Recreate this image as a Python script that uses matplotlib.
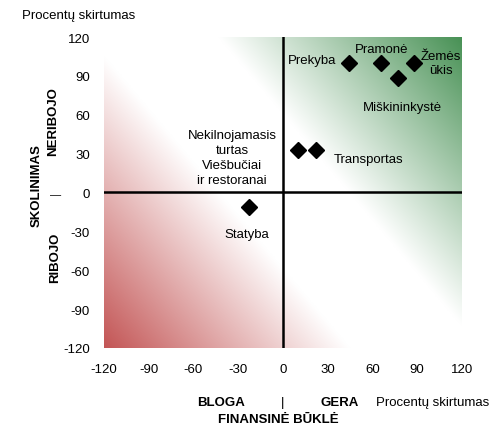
import numpy as np
import matplotlib
matplotlib.use('Agg')
import matplotlib.pyplot as plt

plt.rcParams['font.family'] = ['Liberation Sans', 'DejaVu Sans']
plt.rcParams['axes.unicode_minus'] = False

# sektorių taškai (finansinė būklė, skolinimas), procentų skirtumas
sectors = ['Prekyba', 'Pramonė', 'Žemės ūkis', 'Miškininkystė',
           'Nekilnojamasis turtas', 'Viešbučiai ir restoranai', 'Statyba']
fin_state = [44, 66, 88, 77, 10, 22, -23]
lending = [100, 100, 100, 88, 33, 33, -11]

ticks = [-120, -90, -60, -30, 0, 30, 60, 90, 120]

# etikečių tekstai ir jų vietos (duomenų koordinatėmis)
labels = ['Prekyba', 'Pramonė', 'Žemės\nūkis', 'Miškininkystė',
          'Nekilnojamasis\nturtas\nViešbučiai\nir restoranai', 'Transportas', 'Statyba']
label_x = [36, 66, 106, 80, -34, 34, -24]
label_y = [102, 111, 100, 66, 27, 26, -32]
label_ha = ['right', 'center', 'center', 'center', 'center', 'left', 'center']

fig = plt.figure(figsize=(4.99, 4.27), dpi=100)
ax = fig.add_axes([0.2084, 0.1827, 0.7174, 0.7283])

# fono gradientas: raudona kairėje apačioje, žalia dešinėje viršuje
n = 400
u, v = np.meshgrid(np.linspace(0, 1, n), np.linspace(0, 1, n))
s = 292 * u * 358 + 246 * v * 311
red_w = np.clip(1 - s / 71832, 0, 1)
green_w = np.clip((s - 110000) / (181042 - 110000), 0, 1)
red = np.array([195, 85, 85]) / 255
green = np.array([72, 145, 85]) / 255
img = np.ones((n, n, 3))
img = img * (1 - red_w[..., None]) + red * red_w[..., None]
img = img * (1 - green_w[..., None]) + green * green_w[..., None]
ax.imshow(img, extent=[-120, 120, -120, 120], origin='lower', aspect='auto',
          interpolation='bilinear', zorder=0)

ax.axhline(0, color='black', lw=1.8, zorder=1)
ax.axvline(0, color='black', lw=1.8, zorder=1)

ax.plot(fin_state, lending, 'D', color='black', ms=8.5, ls='none', zorder=3)

fs = 9.5
for t, x, y, ha in zip(labels, label_x, label_y, label_ha):
    ax.text(x, y, t, ha=ha, va='center', fontsize=fs, linespacing=1.3, zorder=4)

ax.set_xlim(-120, 120)
ax.set_ylim(-120, 120)
ax.set_xticks(ticks)
ax.set_yticks(ticks)
ax.tick_params(length=0, labelsize=fs)
ax.tick_params(axis='x', pad=11)
ax.tick_params(axis='y', pad=10)
for sp in ax.spines.values():
    sp.set_visible(False)

# ašių užrašai
fig.text(22 / 499, 1 - 16 / 427, 'Procentų skirtumas', fontsize=fs, va='center', ha='left')
fig.text(53 / 499, 1 - 122 / 427, 'NERIBOJO', fontsize=fs, fontweight='bold',
         rotation=90, ha='center', va='center')
fig.text(56 / 499, 1 - 195 / 427, '—', fontsize=8, ha='center', va='center')
fig.text(37 / 499, 1 - 186 / 427, 'SKOLINIMAS', fontsize=fs, fontweight='bold',
         rotation=90, ha='center', va='center')
fig.text(55 / 499, 1 - 258 / 427, 'RIBOJO', fontsize=fs, fontweight='bold',
         rotation=90, ha='center', va='center')

fig.text(221 / 499, 1 - 403 / 427, 'BLOGA', fontsize=fs, fontweight='bold', ha='center', va='center')
fig.text(283 / 499, 1 - 403 / 427, '|', fontsize=fs, ha='center', va='center')
fig.text(340 / 499, 1 - 403 / 427, 'GERA', fontsize=fs, fontweight='bold', ha='center', va='center')
fig.text(376 / 499, 1 - 403 / 427, 'Procentų skirtumas', fontsize=fs, ha='left', va='center')
fig.text(278 / 499, 1 - 420 / 427, 'FINANSINĖ BŪKLĖ', fontsize=fs, fontweight='bold',
         ha='center', va='center')

fig.savefig('out.png', dpi=100)
